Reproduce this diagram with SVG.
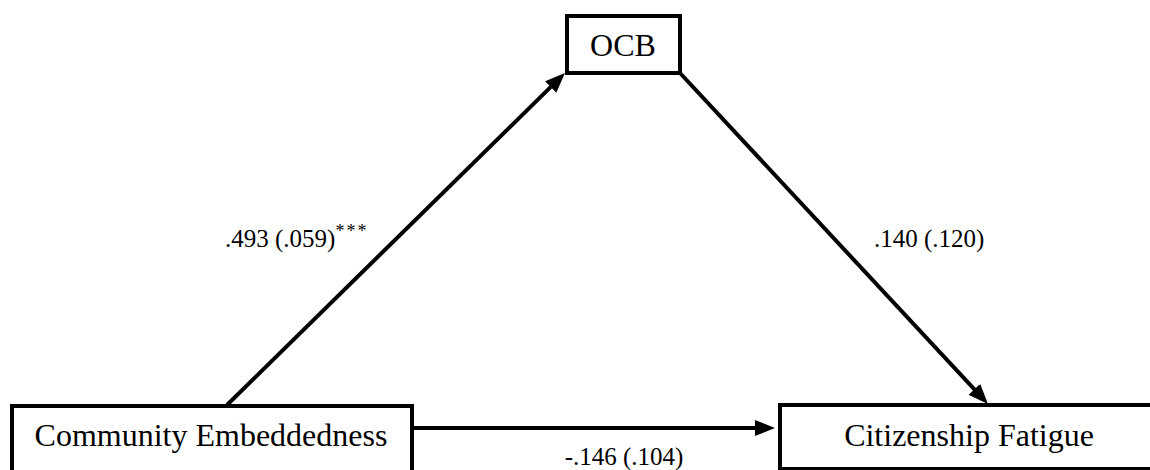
<svg xmlns="http://www.w3.org/2000/svg" width="1150" height="470" viewBox="0 0 1150 470">
<style>
.box{fill:#fff;stroke:#000;stroke-width:4}
.lbl{font-family:'Liberation Serif','Times New Roman',serif;fill:#000}
.node{font-size:32px;text-anchor:middle}
.coef{font-size:25px}
.edge{stroke:#000;stroke-width:4;fill:none}
</style>
<defs>
<marker id="ah" markerUnits="userSpaceOnUse" markerWidth="20" markerHeight="16" refX="8" refY="8" orient="auto">
<path d="M0,0 L20,8 L0,16 z" fill="#000"/>
</marker>
</defs>
<g id="connectors">
<line class="edge" x1="227" y1="405" x2="556.4" y2="81.4" marker-end="url(#ah)"/>
<line class="edge" x1="680" y1="73" x2="979.8" y2="395.2" marker-end="url(#ah)"/>
<line class="edge" x1="413" y1="428" x2="763" y2="428" marker-end="url(#ah)"/>
<text class="lbl coef" font-family="Liberation Serif, serif" x="225" y="247">.493 (.059)<tspan font-size="18" dy="-10" letter-spacing="2">***</tspan></text>
<text class="lbl coef" font-family="Liberation Serif, serif" x="874" y="247">.140 (.120)</text>
<text class="lbl coef" font-family="Liberation Serif, serif" x="624" y="465" text-anchor="middle">-.146 (.104)</text>
</g>
<g id="ocb">
<rect class="box" x="567" y="16" width="113" height="57"/>
<text class="lbl node" font-family="Liberation Serif, serif" x="623" y="56">OCB</text>
</g>
<g id="community-embeddedness">
<rect class="box" x="12" y="406" width="400" height="80"/>
<text class="lbl node" font-family="Liberation Serif, serif" x="211" y="446">Community Embeddedness</text>
</g>
<g id="citizenship-fatigue">
<rect class="box" x="780" y="405" width="390" height="64"/>
<text class="lbl node" font-family="Liberation Serif, serif" x="969" y="446">Citizenship Fatigue</text>
</g>
</svg>
